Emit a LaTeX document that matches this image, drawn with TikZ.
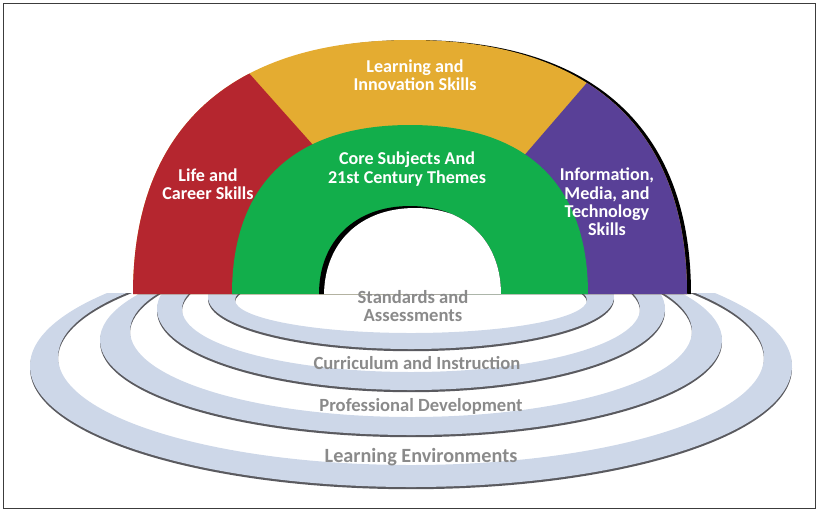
\documentclass[tikz,border=0pt]{standalone}
\usepackage{fontspec}
\setmainfont{Carlito}
\definecolor{lifered}{RGB}{181,38,47}
\definecolor{learnyellow}{RGB}{228,172,49}
\definecolor{mediapurple}{RGB}{89,64,151}
\definecolor{coregreen}{RGB}{18,174,75}
\definecolor{ringblue}{RGB}{205,215,232}
\definecolor{ringwall}{RGB}{90,90,95}
\definecolor{ringtext}{RGB}{138,138,138}
\definecolor{framegray}{RGB}{60,60,60}
\begin{document}
\begin{tikzpicture}[x=0.02cm,y=-0.02cm,
    skill/.style={text=white,font=\bfseries\fontsize{10.3}{10.4}\selectfont,align=center,inner sep=0pt},
    support/.style={text=ringtext,font=\bfseries\fontsize{10.6}{10.4}\selectfont,align=center,inner sep=0pt}]
    \useasboundingbox (0,0) rectangle (819,512);
    \draw[framegray,line width=0.8pt] (3.5,3.5) rectangle (815.5,508.5);
    \begin{scope}
        \clip (0,293) rectangle (819,512);
        \foreach \yo/\rxo/\ryo/\yi/\rxi/\ryi in {366/381/121/357/353/108, 340/311/95/331/281/86, 309/254/81/309/229/63, 297/203/52/300/176/33} {
            \fill[ringwall,even odd rule] (411,\yo+2.2) ellipse [x radius=\rxo, y radius=\ryo] (411,\yi+2.2) ellipse [x radius=\rxi, y radius=\ryi];
            \fill[ringblue,even odd rule] (411,\yo) ellipse [x radius=\rxo, y radius=\ryo] (411,\yi) ellipse [x radius=\rxi, y radius=\ryi];
        }
    \end{scope}
    \fill[black] (137,294) .. controls (137,129) and (234,40) .. (414,40) .. controls (594,40) and (691,129) .. (691,294) -- cycle;
    \begin{scope}
        \clip (133,294) .. controls (133,129) and (230,40) .. (410,40) .. controls (590,40) and (687,129) .. (687,294) -- cycle;
        \fill[learnyellow] (100,0) rectangle (720,300);
        \fill[lifered] (183,-1) -- (443,291) -- (443,300) -- (100,300) -- (100,-1) -- cycle;
        \fill[mediapurple] (648,12) -- (396,304) -- (720,304) -- (720,12) -- cycle;
    \end{scope}
    \fill[coregreen] (232,294) .. controls (232,184) and (294,125) .. (410,125) .. controls (526,125) and (588,184) .. (588,294) -- cycle;
    \begin{scope}
        \clip (319,294) .. controls (319,241) and (355,206) .. (410,206) .. controls (465,206) and (501,241) .. (501,294) -- cycle;
        \fill[black] (300,200) rectangle (520,300);
        \fill[white] (324,296) .. controls (324,243) and (360,208) .. (415,208) .. controls (470,208) and (506,243) .. (506,296) -- cycle;
    \end{scope}
    \node[skill] (learning) at (415,75) {Learning and\\Innovation Skills};
    \node[skill] (life) at (208,184) {Life and\\Career Skills};
    \node[skill] (core) at (407,169) {Core Subjects And\\21st Century Themes};
    \node[skill] (media) at (607,202) {Information,\\Media, and\\Technology\\Skills};
    \node[support] (standards) at (413,306) {Standards and\\Assessments};
    \node[support] (curriculum) at (417,363) {Curriculum and Instruction};
    \node[support] (profdev) at (421,406) {Professional Development};
    \node[support,font=\bfseries\fontsize{11.5}{12}\selectfont] (environments) at (421,457) {Learning Environments};
\end{tikzpicture}
\end{document}
